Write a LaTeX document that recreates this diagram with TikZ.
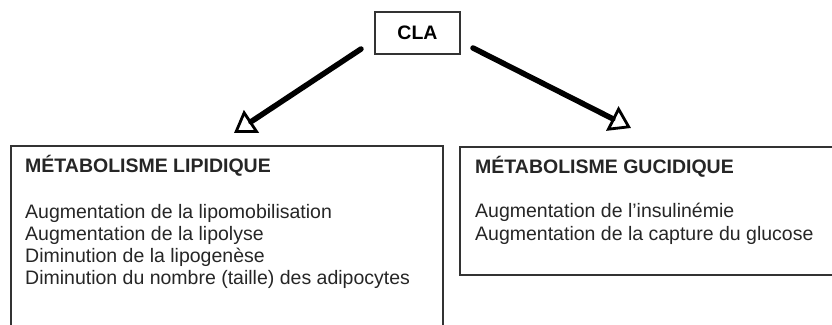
\documentclass[tikz,border=0pt]{standalone}
\usepackage{fontspec}
\setmainfont{Liberation Sans}
\usetikzlibrary{arrows.meta}
\tikzset{
  boxline/.style={draw=black!80, line width=1.5pt},
  txt/.style={anchor=base west, inner sep=0pt, text=black!85, font=\fontsize{19.5}{22}\selectfont},
  ttl/.style={txt, font=\fontsize{19.5}{22}\selectfont\bfseries},
  bigarrow/.style={line width=5.5pt, line cap=round, -{Triangle[open, length=21pt, width=27pt, line width=2.8pt]}}
}
\begin{document}
\begin{tikzpicture}[x=1pt, y=-1pt]
\clip (0,0) rectangle (832,324);
\fill[white] (0,0) rectangle (832,324);
% CLA
\node[boxline, minimum width=85pt, minimum height=42pt, inner sep=0pt, font=\fontsize{19.5}{22}\selectfont\bfseries] (cla) at (417.5,33) {CLA};
% boxes
\draw[boxline] (11,146) rectangle (443,340);
\draw[boxline] (460,147) rectangle (845,275);
\coordinate (lbox) at (234,133);
\coordinate (rbox) at (631,128);
\coordinate (ls) at (361,49);
\coordinate (rs) at (473,48);
\draw[bigarrow] (ls) -- (lbox);
\draw[bigarrow] (rs) -- (rbox);
% left texts
\node[ttl] (lt) at (25,172) {MÉTABOLISME LIPIDIQUE};
\node[txt] (l1) at (25,218) {Augmentation de la lipomobilisation};
\node[txt] (l2) at (25,240) {Augmentation de la lipolyse};
\node[txt] (l3) at (25,262) {Diminution de la lipogenèse};
\node[txt] (l4) at (25,284) {Diminution du nombre (taille) des adipocytes};
% right texts
\node[ttl] (rt) at (475,173) {MÉTABOLISME GUCIDIQUE};
\node[txt] (r1) at (475,217) {Augmentation de l’insulinémie};
\node[txt] (r2) at (475,240) {Augmentation de la capture du glucose};
\end{tikzpicture}
\end{document}
